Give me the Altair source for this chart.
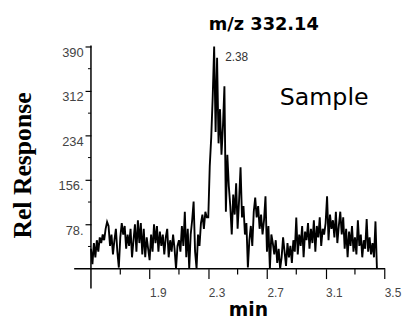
import altair as alt
import pandas as pd

# ---- data ----
rt_start = 1.50
rt_step = 0.01
response = [
    35, 8, 45, 20, 50, 30, 55, 45, 60, 50,
    70, 82, 75, 40, 60, 25, 50, 70, 30, 2,
    55, 80, 60, 75, 35, 60, 40, 70, 20, 50,
    78, 30, 85, 45, 80, 25, 70, 20, 55, 35,
    15, 60, 30, 78, 45, 75, 30, 65, 40, 60,
    25, 55, 70, 20, 50, 30, 60, 35, 0, 40,
    50, 30, 75, 40, 100, 20, 70, 0, 60, 85,
    118, 30, 0, 60, 40, 80, 95, 70, 100, 90,
    90, 180, 230, 300, 390, 240, 370, 220, 280, 200,
    250, 320, 100, 200, 145, 110, 60, 130, 95, 150,
    70, 120, 178, 90, 110, 60, 80, 2, 50, 75,
    40, 100, 125, 90, 110, 70, 95, 60, 85, 127,
    30, 75, 0, 60, 45, 25, 50, 10, 35, 0,
    20, 55, 30, 5, 45, 20, 40, 10, 50, 30,
    90, 25, 60, 40, 75, 20, 65, 50, 80, 35,
    70, 45, 85, 30, 75, 55, 90, 40, 70, 60,
    80, 127, 50, 95, 70, 85, 55, 100, 45, 75,
    100, 60, 90, 35, 70, 20, 65, 40, 75, 30,
    55, 25, 85, 40, 60, 20, 50, 35, 87, 30,
    55, 25, 45, 20, 83, 0,
]
rt = [round(rt_start + rt_step * i, 2) for i in range(len(response))]

x_major = [1.9, 2.3, 2.7, 3.1, 3.5]
x_minor = [1.7, 2.1, 2.5, 2.9, 3.3]
y_major = [78, 156, 234, 312, 390]
y_major_labels = ["78.", "156.", "234", "312", "390"]
y_minor = [39, 117, 195, 273, 351]

title_text = "m/z 332.14"
peak_label = "2.38"
peak_label_rt = 2.415
peak_label_resp = 372
sample_text = "Sample"
sample_rt = 3.09
sample_resp = 300

W, H = 297, 225

df = pd.DataFrame({"rt": rt, "resp": response})

xscale = alt.Scale(domain=[1.5, 3.5], nice=False, zero=False)
yscale = alt.Scale(domain=[0, 390], nice=False)

label_expr = " : ".join(
    f"datum.value == {v} ? '{l}'" for v, l in zip(y_major, y_major_labels)
) + " : ''"

line = alt.Chart(df).mark_line(color="black", strokeWidth=1.9).encode(
    x=alt.X("rt:Q", scale=xscale, axis=alt.Axis(
        values=x_major, domain=False, grid=False, tickSize=10, tickColor="black",
        tickWidth=1.2, labelAlign="left", labelBaseline="top", labelPadding=9,
        labelFont="Liberation Sans", labelFontSize=12, labelColor="#444",
        title="min", titleFont="DejaVu Sans", titleFontSize=19, titleFontWeight="bold",
        titleX=159, titleY=41, titleBaseline="middle", titleAlign="center",
        titleColor="black")),
    y=alt.Y("resp:Q", scale=yscale, axis=alt.Axis(
        values=y_major, domain=False, grid=False, tickSize=6, tickColor="black",
        tickWidth=1.2, labelExpr=label_expr, labelAlign="right", labelBaseline="top",
        labelPadding=2, labelFont="Liberation Sans", labelFontSize=13, labelColor="#444",
        title="Rel Response", titleFont="Liberation Serif", titleFontSize=26,
        titleFontWeight="bold", titleX=-69, titleY=120, titleAngle=-90,
        titleBaseline="middle", titleAlign="center", titleColor="black")),
)

xminor = alt.Chart(pd.DataFrame({"v": x_minor})).mark_rule(color="black", strokeWidth=1.2).encode(
    x=alt.X("v:Q", scale=xscale), y=alt.value(H), y2=alt.value(H + 6))
yminor = alt.Chart(pd.DataFrame({"v": y_minor})).mark_rule(color="black", strokeWidth=1).encode(
    y=alt.Y("v:Q", scale=yscale), x=alt.value(-3), x2=alt.value(0))

xaxis_line = alt.Chart(pd.DataFrame({"a": [0]})).mark_rule(color="black", strokeWidth=1.5).encode(
    x=alt.value(-17), x2=alt.value(W + 1), y=alt.value(H))
yaxis_line = alt.Chart(pd.DataFrame({"a": [0]})).mark_rule(color="black", strokeWidth=1.5).encode(
    x=alt.value(0), y=alt.value(-1), y2=alt.value(H + 20))

peak_txt = alt.Chart(pd.DataFrame({"x": [peak_label_rt], "y": [peak_label_resp], "t": [peak_label]})).mark_text(
    align="left", baseline="middle", font="Liberation Sans", fontSize=12, color="#333").encode(
    x=alt.X("x:Q", scale=xscale), y=alt.Y("y:Q", scale=yscale), text="t:N")
sample_txt = alt.Chart(pd.DataFrame({"x": [sample_rt], "y": [sample_resp], "t": [sample_text]})).mark_text(
    align="center", baseline="middle", font="DejaVu Sans", fontSize=24, color="black").encode(
    x=alt.X("x:Q", scale=xscale), y=alt.Y("y:Q", scale=yscale), text="t:N")
title_txt = alt.Chart(pd.DataFrame({"t": [title_text]})).mark_text(
    align="center", baseline="middle", font="DejaVu Sans", fontSize=18, fontWeight="bold",
    color="black").encode(x=alt.value(175), y=alt.value(-22), text="t:N")

chart = alt.layer(line, xminor, yminor, xaxis_line, yaxis_line, peak_txt, sample_txt, title_txt).properties(
    width=W, height=H,
    autosize=alt.AutoSizeParams(type="none"),
    padding={"left": 84, "top": 37, "right": 22, "bottom": 52},
).configure_view(stroke=None)

chart.save("out.html", embed_options={"renderer": "svg", "actions": False})
